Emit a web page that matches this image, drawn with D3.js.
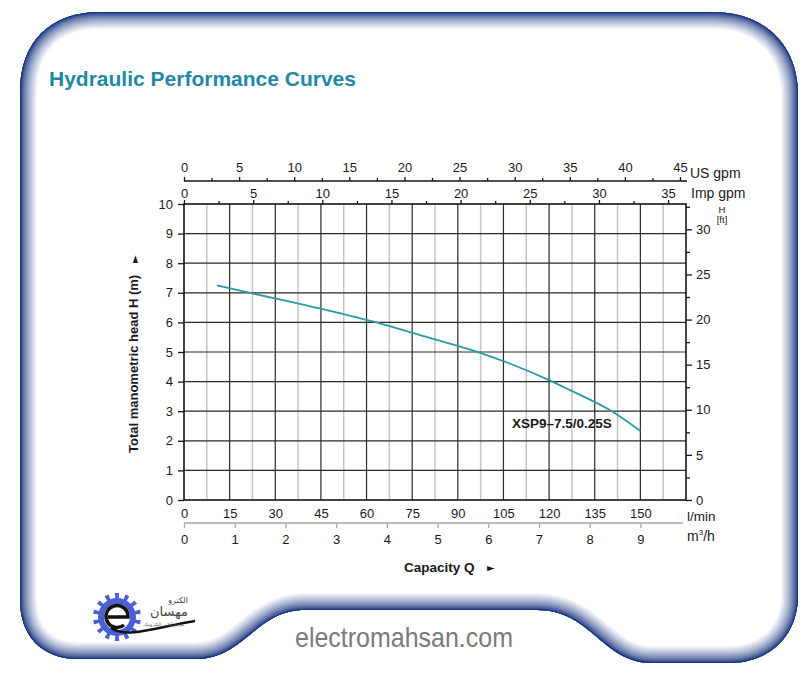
<!DOCTYPE html>
<html><head><meta charset="utf-8">
<script src="https://cdn.jsdelivr.net/npm/d3@7"></script>
<style>body{margin:0;background:#fff}svg{display:block}</style>
</head><body><svg id="c" width="804" height="677"></svg>
<script>
// ---- data ----
const curveQ = [10.8, 22.5, 44.6, 64.3, 80, 97.1, 120, 126.7, 140.9, 150];   // l/min
const curveH = [7.25, 6.98, 6.47, 5.97, 5.5, 4.98, 4.05, 3.72, 2.98, 2.33];  // m
const seriesName = "XSP9–7.5/0.25S";
const lpmTicks = [0, 15, 30, 45, 60, 75, 90, 105, 120, 135, 150];
const m3hTicks = [0, 1, 2, 3, 4, 5, 6, 7, 8, 9];
const headTicks = [0, 1, 2, 3, 4, 5, 6, 7, 8, 9, 10];
const ftTicks = [0, 5, 10, 15, 20, 25, 30];
const ftMinor = [2.5, 7.5, 12.5, 17.5, 22.5, 27.5, 32.5];
const usGpmTicks = [0, 5, 10, 15, 20, 25, 30, 35, 40, 45];
const usGpmMinor = [2.5, 7.5, 12.5, 17.5, 22.5, 27.5, 32.5, 37.5, 42.5];
const impGpmTicks = [0, 5, 10, 15, 20, 25, 30, 35];
const impGpmMinor = [2.5, 7.5, 12.5, 17.5, 22.5, 27.5, 32.5];

const svg = d3.select("#c");
svg.append("rect").attr("width", 804).attr("height", 677).attr("fill", "#fff");
const FONT = "'Liberation Sans', Arial, sans-serif";
const TXT = "#1a1a1a";

// ---- frame with inward gradient ----
const framePath = "M20,92 C20,42 50,12 100,12 L712,12 C765,12 798,45 798,95 L798,595 C798,636 770,663 728,663 L652,663 C602,663 592,610 537,610 L305,610 C255,610 245,659 195,659 L78,659 C42,659 20,636 20,600 Z";
const defs = svg.append("defs");
defs.append("clipPath").attr("id", "fc").append("path").attr("d", framePath);
const fg = svg.append("g").attr("clip-path", "url(#fc)");
const col = d3.interpolateRgb("#17347f", "#ffffff");
const N = 18;
for (let d = N; d >= 1; d--) {
  const t = (d - 1) / (N - 1);
  fg.append("path").attr("d", framePath).attr("fill", "none")
    .attr("stroke", col(Math.pow(t, 0.7))).attr("stroke-width", 2 * d);
}

// ---- title ----
svg.append("text").attr("x", 49).attr("y", 86).attr("font-family", FONT)
  .attr("font-size", 21).attr("font-weight", "bold").attr("fill", "#1f88a6")
  .text("Hydraulic Performance Curves");

// ---- scales ----
const x = d3.scaleLinear().domain([0, 165]).range([184, 686]);
const y = d3.scaleLinear().domain([0, 10]).range([500, 204]);
const yFt = d3.scaleLinear().domain([0, 10 * 3.28084]).range([500, 204]);
const xImp = d3.scaleLinear().domain([0, 165 / 4.546]).range([184, 686]);
const xUs = d3.scaleLinear().domain([0, 45]).range([184, 680]);
const xM3 = d3.scaleLinear().domain([0, 165 / 16.667]).range([184, 686]);

// ---- grid ----
const grid = svg.append("g");
const vLines = d3.range(1, 22).map(i => i * 7.5);
vLines.filter(v => v % 15 !== 0).forEach(v => {
  grid.append("line").attr("x1", x(v)).attr("x2", x(v)).attr("y1", y(0)).attr("y2", y(10))
    .attr("stroke", "#c4c4c4").attr("stroke-width", 1.5);
});
vLines.filter(v => v % 15 === 0).forEach(v => {
  grid.append("line").attr("x1", x(v)).attr("x2", x(v)).attr("y1", y(0)).attr("y2", y(10))
    .attr("stroke", "#2a2a2a").attr("stroke-width", 1.2);
});
headTicks.slice(1, -1).forEach(v => {
  grid.append("line").attr("x1", x(0)).attr("x2", x(165)).attr("y1", y(v)).attr("y2", y(v))
    .attr("stroke", "#2a2a2a").attr("stroke-width", 1.2);
});
svg.append("rect").attr("x", x(0)).attr("y", y(10)).attr("width", x(165) - x(0)).attr("height", y(0) - y(10))
  .attr("fill", "none").attr("stroke", "#151515").attr("stroke-width", 1.6);

function styleAxis(g, color) {
  g.select(".domain").remove();
  g.selectAll("line").attr("stroke", color || "#151515").attr("stroke-width", 1.3);
  g.selectAll("text").attr("font-family", FONT).attr("font-size", 13).attr("fill", TXT);
}

// left axis (m)
svg.append("g").attr("transform", `translate(${x(0)},0)`)
  .call(d3.axisLeft(y).tickValues(headTicks).tickSize(6).tickPadding(5).tickFormat(d3.format("d")))
  .call(g => styleAxis(g));
// right axis (ft)
svg.append("g").attr("transform", `translate(${x(165)},0)`)
  .call(d3.axisRight(yFt).tickValues(ftTicks).tickSize(6).tickPadding(4).tickFormat(d3.format("d")))
  .call(g => styleAxis(g));
svg.append("g").attr("transform", `translate(${x(165)},0)`)
  .call(d3.axisRight(yFt).tickValues(ftMinor).tickSize(4).tickFormat(""))
  .call(g => styleAxis(g));
svg.append("text").attr("x", 722).attr("y", 213).attr("text-anchor", "middle")
  .attr("font-family", FONT).attr("font-size", 9.5).attr("fill", TXT).text("H");
svg.append("text").attr("x", 722).attr("y", 223).attr("text-anchor", "middle")
  .attr("font-family", FONT).attr("font-size", 9.5).attr("fill", TXT).text("[ft]");

// top Imp gpm
svg.append("g").attr("transform", `translate(0,${y(10)})`)
  .call(d3.axisTop(xImp).tickValues(impGpmTicks).tickSize(4).tickPadding(2).tickFormat(d3.format("d")))
  .call(g => styleAxis(g));
svg.append("g").attr("transform", `translate(0,${y(10)})`)
  .call(d3.axisTop(xImp).tickValues(impGpmMinor).tickSize(3).tickFormat(""))
  .call(g => styleAxis(g));
svg.append("text").attr("x", 691).attr("y", 198).attr("font-family", FONT).attr("font-size", 14)
  .attr("fill", TXT).text("Imp gpm");

// top US gpm
svg.append("line").attr("x1", 184).attr("x2", 687).attr("y1", 181).attr("y2", 181)
  .attr("stroke", "#151515").attr("stroke-width", 1.5);
svg.append("g").attr("transform", "translate(0,181)")
  .call(d3.axisTop(xUs).tickValues(usGpmTicks).tickSize(4).tickPadding(5).tickFormat(d3.format("d")))
  .call(g => styleAxis(g));
svg.append("g").attr("transform", "translate(0,181)")
  .call(d3.axisTop(xUs).tickValues(usGpmMinor).tickSize(3).tickFormat(""))
  .call(g => styleAxis(g));
svg.append("text").attr("x", 690).attr("y", 178).attr("font-family", FONT).attr("font-size", 14)
  .attr("fill", TXT).text("US gpm");

// bottom l/min
svg.append("g").attr("transform", `translate(0,${y(0)})`)
  .call(d3.axisBottom(x).tickValues(lpmTicks).tickSize(0).tickPadding(9).tickFormat(d3.format("d")))
  .call(g => styleAxis(g));
svg.append("text").attr("x", 687).attr("y", 520.5).attr("font-family", FONT).attr("font-size", 13.5)
  .attr("fill", TXT).text("l/min");

// bottom m3/h
svg.append("line").attr("x1", 184).attr("x2", 683).attr("y1", 523).attr("y2", 523)
  .attr("stroke", "#a8a8a8").attr("stroke-width", 1.5);
svg.append("g").attr("transform", "translate(0,523)")
  .call(d3.axisBottom(xM3).tickValues(m3hTicks).tickSize(5).tickPadding(7).tickFormat(d3.format("d")))
  .call(g => styleAxis(g, "#a8a8a8"));
const m3 = svg.append("text").attr("x", 687).attr("y", 541).attr("font-family", FONT).attr("font-size", 14).attr("fill", TXT);
m3.append("tspan").text("m");
m3.append("tspan").attr("font-size", 8).attr("dy", -6).text("3");
m3.append("tspan").attr("dy", 6).text("/h");

// axis titles
svg.append("text").attr("x", 404).attr("y", 572).attr("font-family", FONT).attr("font-size", 13.5)
  .attr("font-weight", "bold").attr("fill", TXT).text("Capacity Q");
svg.append("text").attr("x", 487).attr("y", 571).attr("font-family", "'DejaVu Sans', sans-serif").attr("font-size", 10)
  .attr("fill", TXT).text("►");
svg.append("text").attr("transform", "translate(138,453) rotate(-90)").attr("font-family", FONT)
  .attr("font-size", 13).attr("font-weight", "bold").attr("fill", TXT).text("Total manometric head H (m)");
svg.append("text").attr("transform", "translate(138,263) rotate(-90)").attr("font-family", "'DejaVu Sans', sans-serif")
  .attr("font-size", 10).attr("fill", TXT).text("►");

// ---- curve ----
const pts = curveQ.map((q, i) => [q, curveH[i]]);
svg.append("path").datum(pts).attr("fill", "none").attr("stroke", "#2a9aa4").attr("stroke-width", 1.8)
  .attr("d", d3.line().x(d => x(d[0])).y(d => y(d[1])).curve(d3.curveMonotoneX));
svg.append("text").attr("x", 512).attr("y", 428).attr("font-family", FONT).attr("font-size", 13.5)
  .attr("font-weight", "bold").attr("fill", TXT).text(seriesName);

// ---- logo ----
const logo = svg.append("g").attr("transform", "translate(117,617)");
const teeth = 14;
logo.selectAll("path.tooth").data(d3.range(teeth)).join("path")
  .attr("d", d3.arc().innerRadius(18).outerRadius(24)
    .startAngle(i => (i / teeth) * 2 * Math.PI - 0.09).endAngle(i => (i / teeth) * 2 * Math.PI + 0.09))
  .attr("fill", "#4b5fd4");
logo.append("circle").attr("r", 19).attr("fill", "#4b5fd4");
logo.append("circle").attr("r", 13).attr("fill", "#fff");
logo.append("path").attr("d", "M-9,0 L11,0 A11,11 0 1 0 7,8").attr("fill", "none").attr("stroke", "#111").attr("stroke-width", 3.5);
logo.append("path").attr("d", "M-6,11 C10,22 40,10 78,4").attr("fill", "none").attr("stroke", "#111").attr("stroke-width", 2.5);
svg.append("text").attr("x", 188).attr("y", 603).attr("text-anchor", "end").attr("font-family", "'DejaVu Sans', sans-serif")
  .attr("font-size", 8).attr("fill", "#444").text("الکترو");
svg.append("text").attr("x", 188).attr("y", 616).attr("text-anchor", "end").attr("font-family", "'DejaVu Sans', sans-serif")
  .attr("font-size", 13).attr("fill", "#444").text("مهسان");
svg.append("text").attr("x", 184).attr("y", 626).attr("text-anchor", "end").attr("font-family", "'DejaVu Sans', sans-serif")
  .attr("font-size", 4.5).attr("fill", "#555").text("مرجع آنلاین الکترونیک");

// ---- watermark ----
svg.append("text").attr("x", 295).attr("y", 647).attr("font-family", "'Liberation Sans Narrow', 'Liberation Sans', Arial, sans-serif")
  .attr("font-size", 28).attr("fill", "#7a7a7a").attr("textLength", 218).attr("lengthAdjust", "spacingAndGlyphs")
  .text("electromahsan.com");
</script></body></html>
